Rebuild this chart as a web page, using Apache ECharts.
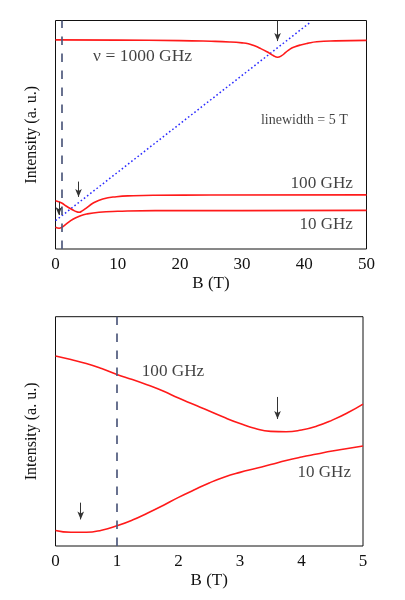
<!DOCTYPE html>
<html>
<head>
<meta charset="utf-8">
<script src="https://cdn.jsdelivr.net/npm/echarts@6/dist/echarts.min.js"></script>
<style>
html,body{margin:0;padding:0;background:#fff;}
#chart{width:405px;height:600px;}
</style>
</head>
<body>
<div id="chart"></div>
<script>
// ---------- Top panel data (B in T, intensity in arbitrary units) ----------
var top1000B = [0,10,20,25,28,30,31,32,33,34,35,35.7,36.3,37,37.7,38.5,39.4,40.5,42,45,50];
var top1000I = [91.5,91.4,91.2,90.9,90.6,90.2,89.8,88.9,87.7,86.3,84.7,83.9,84.5,86.0,87.5,88.5,89.3,90.0,90.7,91.1,91.3];

var top100B = [0,1,1.7,2.8,3.3,3.8,4.3,5,6,7.6,9.8,12.5,16,25,50];
var top100I = [21.1,20.1,18.8,17.1,16.4,16.1,16.7,18.0,20.0,21.9,22.9,23.3,23.5,23.6,23.7];

var top10B = [0,0.6,1,1.7,2.8,3.9,5,7,10,16,30,50];
var top10I = [9.5,9.1,9.5,10.9,13.0,14.4,15.3,16.1,16.5,16.8,16.8,16.9];

var resonanceB = [0,41];
var resonanceI = [12.4,99.3];

// arrows: field position, start intensity, end intensity
var topArrowB = [35.7,3.7,0.53];
var topArrowFrom = [100,29.5,20.6];
var topArrowTo = [91.0,22.8,14.9];

var topLabels = ['\u03bd = 1000 GHz','100 GHz','10 GHz','linewidth = 5 T'];
var topLabelB = [14.0,42.8,43.5,40.0];
var topLabelI = [84.3,28.8,10.5,56.1];

var topTicks = [0,10,20,30,40,50];

// ---------- Bottom panel data ----------
var botB = [0,0.25,0.5,0.75,1,1.25,1.5,1.75,2,2.25,2.5,2.75,3,3.25,3.5,3.75,4,4.25,4.5,4.75,5];
var bot100I = [82.9,81.3,79.6,77.4,74.8,72.6,70.2,67.6,64.5,61.7,58.9,56.0,53.4,51.2,50.0,49.8,50.6,52.3,54.9,58.1,61.9];
var bot10I = [6.8,6.0,6.0,6.9,8.8,11.3,14.4,17.7,21.2,24.4,27.5,30.1,32.1,33.8,35.5,37.3,38.8,40.1,41.4,42.5,43.6];

var botArrowB = [3.61,0.41];
var botArrowFrom = [65.0,18.9];
var botArrowTo = [55.4,11.6];

var botLabels = ['100 GHz','10 GHz'];
var botLabelB = [1.91,4.37];
var botLabelI = [76.3,32.0];

var botTicks = [0,1,2,3,4,5];

var dashedB = 1;

// ---------- helpers ----------
function zip(a,b){ return a.map(function(v,i){ return [v,b[i]]; }); }
function arrows(bs,from,to){
  return bs.map(function(b,i){ return [{coord:[b,from[i]]},{coord:[b,to[i]]}]; });
}
function labelsData(t,bs,is){
  return t.map(function(s,i){ return {value:[bs[i],is[i]], name:s}; });
}

var FONT = '"Liberation Serif","Times New Roman",serif';
var TXT = '#111';
var RED = '#ff1a1a';

function xAxisCfg(gi,min,max,interval){
  return {
    type:'value', gridIndex:gi, min:min, max:max, interval:interval,
    name:'B (T)', nameLocation:'middle', nameGap:26,
    nameTextStyle:{fontFamily:FONT,fontSize:17,color:TXT},
    axisLine:{show:false}, axisTick:{show:false}, splitLine:{show:false},
    axisLabel:{fontFamily:FONT,fontSize:17,color:TXT,margin:7}
  };
}
function yAxisCfg(gi){
  return {
    type:'value', gridIndex:gi, min:0, max:100,
    name:'Intensity (a. u.)', nameLocation:'middle', nameGap:16,
    nameTextStyle:{fontFamily:FONT,fontSize:16,color:TXT},
    axisLine:{show:false}, axisTick:{show:false}, splitLine:{show:false},
    axisLabel:{show:false}
  };
}
function redLine(xi,data){
  return {type:'line', xAxisIndex:xi, yAxisIndex:xi, data:data, symbol:'none',
    smooth:0.5,
    lineStyle:{color:RED,width:1.6}, silent:true, z:3};
}
function arrowSeries(xi,data){
  return {type:'line', xAxisIndex:xi, yAxisIndex:xi, data:[], symbol:'none', silent:true,
    markLine:{silent:true, symbol:['none','arrow'], symbolSize:[5,8], animation:false,
      label:{show:false}, lineStyle:{color:'#333',width:1,type:'solid'}, data:data}};
}
function labelSeries(xi,data,sizes){
  return {type:'scatter', xAxisIndex:xi, yAxisIndex:xi, symbolSize:0, silent:true,
    data:data.map(function(d,i){
      return {value:d.value, name:d.name,
        label:{show:true, position:'inside', formatter:d.name,
          fontFamily:FONT, fontSize:sizes[i], color:TXT}};
    })};
}
function dashedSeries(xi){
  return {type:'line', xAxisIndex:xi, yAxisIndex:xi, data:[], symbol:'none', silent:true,
    markLine:{silent:true, symbol:['none','none'], animation:false, label:{show:false},
      lineStyle:{color:'#4f5a7d',width:1.7,type:[8.5,8.5]},
      data:[{xAxis:dashedB}]}};
}

var option = {
  animation:false,
  backgroundColor:'#fff',
  grid:[
    {left:55.5, right:38.5, top:20.5, height:228.5, show:true, borderColor:'#111', borderWidth:1, backgroundColor:'transparent'},
    {left:55.5, right:42, top:316.7, height:229.3, show:true, borderColor:'#111', borderWidth:1, backgroundColor:'transparent'}
  ],
  xAxis:[ xAxisCfg(0,topTicks[0],topTicks[topTicks.length-1],10), xAxisCfg(1,botTicks[0],botTicks[botTicks.length-1],1) ],
  yAxis:[ yAxisCfg(0), yAxisCfg(1) ],
  series:[
    dashedSeries(0),
    {type:'line', xAxisIndex:0, yAxisIndex:0, data:zip(resonanceB,resonanceI), symbol:'none', silent:true,
      lineStyle:{color:'#2a2aff',width:1.5,type:[1.6,2.4]}, z:2},
    redLine(0,zip(top1000B,top1000I)),
    redLine(0,zip(top100B,top100I)),
    redLine(0,zip(top10B,top10I)),
    arrowSeries(0,arrows(topArrowB,topArrowFrom,topArrowTo)),
    labelSeries(0,labelsData(topLabels,topLabelB,topLabelI),[17.5,17.2,17,14]),

    dashedSeries(1),
    redLine(1,zip(botB,bot100I)),
    redLine(1,zip(botB,bot10I)),
    arrowSeries(1,arrows(botArrowB,botArrowFrom,botArrowTo)),
    labelSeries(1,labelsData(botLabels,botLabelB,botLabelI),[17.2,17])
  ]
};

var chart = echarts.init(document.getElementById('chart'),null,{renderer:'canvas'});
chart.setOption(option);
</script>
</body>
</html>
